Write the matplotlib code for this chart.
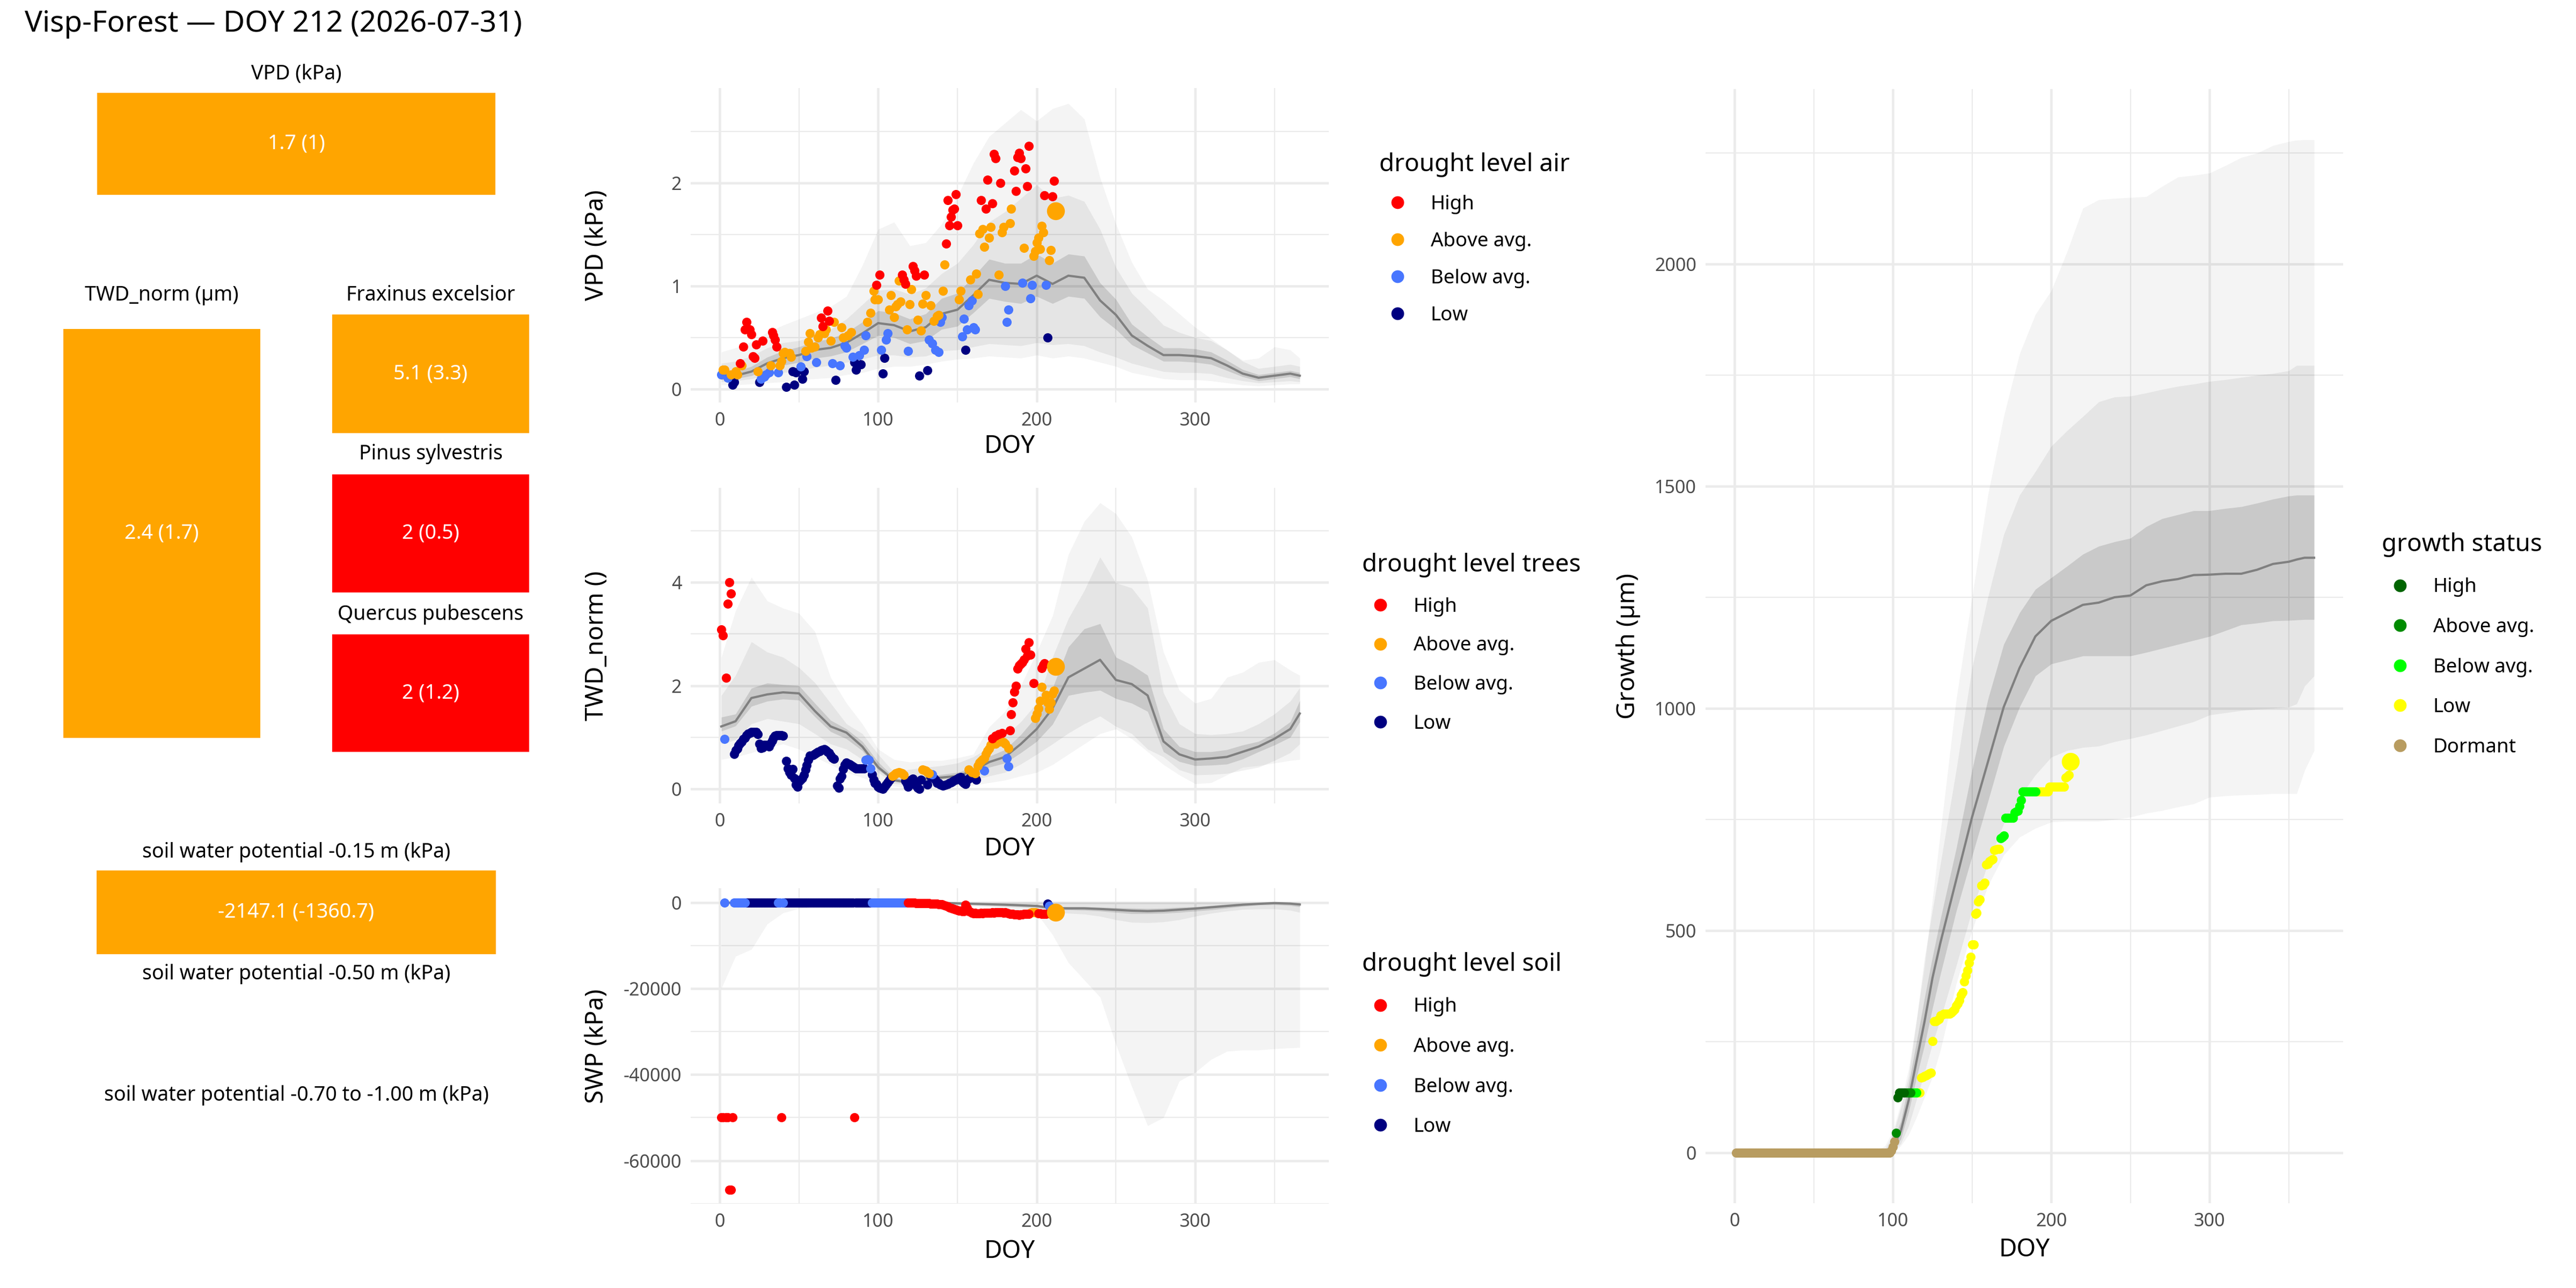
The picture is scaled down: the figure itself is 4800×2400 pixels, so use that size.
import numpy as np
import matplotlib
matplotlib.use("Agg")
import matplotlib.pyplot as plt
from matplotlib.lines import Line2D

plt.rcParams['font.family'] = ['Noto Sans', 'DejaVu Sans']
plt.rcParams['axes.unicode_minus'] = False

# ---------------- colours per class ----------------
drought_labels = ['High', 'Above avg.', 'Below avg.', 'Low']
drought_colors = ['#FF0000', '#FFA500', '#4876FF', '#000080']
growth_labels = ['High', 'Above avg.', 'Below avg.', 'Low', 'Dormant']
growth_colors = ['#006400', '#008B00', '#00FF00', '#FFFF00', '#B89C60']

# ---------------- summary tiles ----------------
tile_names = ['VPD (kPa)', 'TWD_norm (µm)', 'Fraxinus excelsior', 'Pinus sylvestris',
              'Quercus pubescens', 'soil water potential -0.15 m (kPa)']
tile_texts = ['1.7 (1)', '2.4 (1.7)', '5.1 (3.3)', '2 (0.5)', '2 (1.2)', '-2147.1 (-1360.7)']
tile_levels = ['Above avg.', 'Above avg.', 'Above avg.', 'High', 'High', 'Above avg.']
empty_tiles = ['soil water potential -0.50 m (kPa)', 'soil water potential -0.70 to -1.00 m (kPa)']

today_doy = 212

# ---------------- climatology ribbons (10-day grid) ----------------
rib_doy = [1, 10, 20, 30, 40, 50, 60, 70, 80, 90, 100, 110, 120, 130, 140, 150, 160, 170, 180,
           190, 200, 210, 220, 230, 240, 250, 260, 270, 280, 290, 300, 310, 320, 330, 340, 350, 360, 366]

vpd_mean = [0.125,0.13,0.17,0.25,0.30,0.33,0.38,0.40,0.45,0.54,0.64,0.62,0.56,0.60,0.73,0.77,0.91,1.06,1.03,
            1.02,1.10,1.02,1.10,1.08,0.86,0.72,0.52,0.42,0.33,0.33,0.32,0.30,0.23,0.15,0.11,0.13,0.15,0.13]
vpd_q25 = [0.09,0.10,0.13,0.19,0.23,0.26,0.30,0.32,0.36,0.44,0.52,0.50,0.44,0.47,0.58,0.61,0.74,0.88,0.85,
           0.83,0.90,0.83,0.90,0.88,0.70,0.58,0.43,0.35,0.27,0.27,0.26,0.24,0.18,0.12,0.08,0.10,0.12,0.10]
vpd_q75 = [0.16,0.17,0.22,0.31,0.37,0.41,0.46,0.49,0.55,0.65,0.76,0.74,0.68,0.73,0.88,0.93,1.09,1.26,1.22,
           1.22,1.31,1.22,1.31,1.29,1.03,0.87,0.63,0.51,0.40,0.40,0.39,0.36,0.28,0.19,0.14,0.16,0.18,0.16]
vpd_q10 = [0.07,0.08,0.10,0.13,0.16,0.18,0.21,0.23,0.26,0.29,0.33,0.33,0.31,0.32,0.37,0.38,0.41,0.44,0.43,
           0.42,0.45,0.43,0.44,0.42,0.36,0.31,0.25,0.21,0.17,0.16,0.16,0.15,0.11,0.08,0.06,0.07,0.08,0.07]
vpd_q90 = [0.25,0.27,0.32,0.40,0.45,0.47,0.52,0.58,0.68,0.82,0.96,0.97,0.92,0.98,1.12,1.22,1.40,1.62,1.72,
           1.85,1.98,1.85,1.88,1.82,1.55,1.18,0.93,0.78,0.62,0.55,0.50,0.47,0.38,0.27,0.20,0.22,0.24,0.22]
vpd_min = [0.04,0.04,0.05,0.06,0.07,0.09,0.10,0.11,0.14,0.16,0.20,0.22,0.22,0.24,0.27,0.29,0.30,0.32,0.31,
           0.30,0.33,0.30,0.32,0.30,0.26,0.22,0.16,0.13,0.10,0.09,0.09,0.08,0.06,0.04,0.03,0.04,0.05,0.05]
vpd_max = [0.36,0.40,0.46,0.55,0.62,0.68,0.74,0.80,0.90,1.20,1.55,1.62,1.39,1.42,1.60,1.87,2.19,2.45,2.58,
           2.71,2.60,2.72,2.77,2.62,2.05,1.60,1.23,0.97,0.86,0.73,0.60,0.49,0.38,0.28,0.30,0.41,0.38,0.30]

twd_mean = [1.21,1.31,1.76,1.83,1.87,1.85,1.51,1.21,1.09,0.82,0.42,0.17,0.12,0.20,0.22,0.25,0.35,0.52,0.62,
            0.87,1.16,1.56,2.16,2.33,2.50,2.11,2.03,1.81,0.92,0.67,0.57,0.59,0.62,0.72,0.82,0.97,1.16,1.46]
twd_q25 = [1.12,1.22,1.60,1.70,1.74,1.72,1.40,1.11,0.97,0.74,0.37,0.14,0.10,0.17,0.19,0.21,0.27,0.42,0.50,
           0.70,0.92,1.25,1.81,1.87,1.91,1.75,1.66,1.50,0.72,0.53,0.45,0.46,0.48,0.58,0.72,0.85,1.00,1.30]
twd_q75 = [1.39,1.45,1.95,2.05,2.02,2.00,1.66,1.33,1.16,0.92,0.52,0.22,0.17,0.25,0.28,0.32,0.42,0.63,0.76,
           1.05,1.41,1.95,2.75,3.10,3.20,2.55,2.40,2.20,1.16,0.82,0.72,0.72,0.76,0.85,0.92,1.08,1.30,1.71]
twd_q10 = [0.87,0.95,1.26,1.36,1.31,1.26,1.07,0.87,0.77,0.57,0.32,0.10,0.08,0.10,0.12,0.14,0.17,0.25,0.32,
           0.48,0.67,0.87,1.08,1.26,1.41,1.21,1.07,0.77,0.62,0.37,0.27,0.28,0.30,0.36,0.42,0.55,0.70,0.87]
twd_q90 = [1.81,2.20,2.85,2.65,2.55,2.35,2.06,1.66,1.26,1.07,0.67,0.32,0.38,0.42,0.45,0.50,0.62,0.80,1.02,
           1.30,1.66,2.55,3.30,3.84,4.49,3.99,3.89,3.50,1.86,1.26,1.07,1.05,1.07,1.12,1.26,1.45,1.70,1.96]
twd_min = [0.57,0.62,0.70,0.80,0.87,0.77,0.62,0.47,0.32,0.22,0.10,0.05,0.02,0.03,0.05,0.06,0.07,0.12,0.17,
           0.25,0.32,0.47,0.67,0.87,1.07,1.16,0.97,0.72,0.47,0.27,0.10,0.12,0.27,0.42,0.45,0.50,0.55,0.57]
twd_max = [2.55,3.45,4.10,3.64,3.50,3.40,3.05,2.16,1.66,1.26,0.77,0.57,0.52,0.55,0.55,0.60,0.67,1.20,1.50,
           2.00,2.65,3.35,4.54,5.18,5.54,5.33,4.88,4.04,2.65,1.91,1.66,1.75,2.16,2.26,2.45,2.50,2.30,2.20]

swp_mean = [-30,-30,-30,-30,-30,-30,-30,-30,-30,-30,-40,-50,-60,-80,-100,-200,-300,-400,-500,
            -650,-800,-1300,-1350,-1350,-1500,-1700,-1900,-2000,-1900,-1650,-1400,-1100,-800,-500,-300,-130,-250,-450]
swp_q25 = [-80,-80,-80,-80,-80,-80,-80,-80,-80,-80,-100,-120,-150,-180,-220,-350,-500,-650,-800,
           -950,-1100,-1700,-1700,-1800,-2000,-2300,-2600,-2600,-2500,-2300,-2000,-1700,-1300,-900,-600,-500,-700,-1000]
swp_q75 = [0,0,0,0,0,0,0,0,0,0,-10,-20,-20,-30,-40,-80,-120,-180,-250,
           -350,-500,-1000,-1000,-1000,-1100,-1200,-1300,-1400,-1300,-1100,-1000,-700,-400,-200,-80,-30,-80,-200]
swp_q10 = [-300,-300,-300,-300,-300,-300,-300,-300,-300,-300,-300,-350,-400,-450,-500,-600,-700,-800,-1000,
           -1200,-1500,-2200,-2500,-2700,-3200,-4000,-4600,-4700,-4500,-4000,-3200,-2500,-2000,-1600,-1500,-1500,-1800,-2300]
swp_q90 = [0,0,0,0,0,0,0,0,0,0,0,0,0,0,0,0,0,0,0,
           0,0,0,0,0,0,0,0,0,0,0,0,0,0,0,0,0,0,0]
swp_min = [-20000,-12500,-10900,-5000,-2400,-1400,-1000,-800,-700,-600,-500,-500,-500,-500,-500,-600,-800,-1000,-1500,
           -2000,-2500,-7500,-14000,-18000,-22000,-33000,-42800,-51900,-50000,-41500,-39500,-36500,-34600,-34300,-34300,-34000,-33800,-33700]
swp_max = [200,200,200,200,200,200,200,200,200,200,200,200,200,200,200,200,200,200,200,
           200,200,200,200,200,200,200,200,200,200,200,200,200,200,200,200,200,200,200]

gr_rib_doy = [1, 50, 90, 95, 100, 105, 110, 115, 120, 125, 130, 140, 150, 160, 170, 180, 190, 200, 210,
              220, 230, 240, 250, 260, 270, 280, 290, 300, 310, 320, 330, 340, 350, 355, 360, 366]
gr_mean = [0,0,0,2,12,48,118,207,295,393,472,614,755,879,1003,1091,1162,1197,1215,
           1233,1238,1250,1254,1277,1286,1291,1300,1301,1303,1303,1312,1325,1330,1335,1339,1339]
gr_q25 = [0,0,0,0,5,30,92,170,242,325,401,543,667,790,914,1003,1073,1100,1109,
          1118,1118,1118,1118,1126,1135,1144,1153,1162,1175,1188,1192,1197,1198,1199,1200,1200]
gr_q75 = [0,0,0,5,25,70,154,250,348,440,525,684,861,1020,1144,1215,1268,1294,1320,
          1347,1365,1375,1383,1409,1427,1436,1445,1445,1450,1454,1462,1471,1478,1480,1480,1480]
gr_q10 = [0,0,0,0,3,20,60,120,180,245,300,420,545,650,740,800,850,890,905,
          912,915,925,932,940,950,960,970,985,990,995,998,1000,1003,1010,1050,1073]
gr_q90 = [0,0,0,8,40,100,172,300,437,545,649,861,1091,1250,1391,1480,1533,1590,1625,
          1657,1690,1701,1703,1710,1718,1725,1730,1736,1740,1745,1750,1754,1760,1772,1772,1772]
gr_min = [0,0,0,0,0,15,40,80,125,170,230,380,500,600,670,710,730,744,746,
          746,746,750,755,764,770,778,785,800,803,805,806,808,808,808,860,905]
gr_max = [0,0,5,15,48,110,189,300,419,570,720,1020,1250,1480,1657,1798,1887,1940,2028,
          2126,2145,2148,2150,2152,2175,2196,2200,2205,2222,2240,2250,2267,2276,2279,2280,2280]

# ---------------- this year's daily values, per class ----------------
vpd_high_doy = [13,15,16,17,19,20,21,22,23,27,33,34,35,36,64,65,68,69,99,101,115,116,117,122,123,124,129,
                143,144,145,146,147,148,149,150,165,168,169,172,173,174,177,186,187,188,189,190,193,194,195,205,210,211]
vpd_high_val = [.25,.41,.58,.65,.58,.53,.32,.30,.43,.47,.55,.52,.48,.41,.69,.61,.76,.66,1.01,1.11,1.11,1.06,1.02,
                1.19,1.15,1.10,1.11,1.41,1.83,1.59,1.67,1.74,1.75,1.89,1.59,1.83,1.75,2.03,1.80,2.28,2.24,2.00,
                2.12,1.92,2.25,2.29,2.24,2.14,1.97,2.36,1.88,1.87,2.02]
vpd_above_doy = [2,3,7,10,11,14,24,32,38,39,40,41,44,45,54,56,57,58,60,62,63,66,67,70,72,77,78,81,83,93,
                 95,97,98,100,107,108,110,111,112,113,114,118,120,121,125,127,128,130,133,135,137,138,141,142,
                 151,152,158,162,163,164,166,167,170,171,176,178,179,183,184,192,198,199,200,201,202,203,204,208,209]
vpd_above_val = [.19,.19,.14,.17,.14,.23,.17,.23,.23,.27,.35,.36,.35,.31,.37,.46,.54,.40,.41,.50,
                 .53,.54,.58,.47,.65,.60,.50,.52,.55,.65,.74,.95,.87,.87,.77,.91,.70,.80,.82,1.05,
                 .85,.58,.82,.97,.67,.57,.83,.91,.81,.66,.71,.72,.95,1.21,.87,.95,1.06,1.12,.92,1.51,
                 1.55,1.38,1.47,1.57,1.11,1.52,1.57,1.61,1.75,1.37,1.29,1.34,1.42,1.47,1.36,1.58,1.52,1.25,1.35]
vpd_below_doy = [1,5,26,28,29,31,37,51,55,61,71,76,79,80,84,88,91,92,102,105,106,119,132,134,136,138,139,140,
                 153,154,156,157,159,160,161,180,181,182,191,196,197,206]
vpd_below_val = [.14,.11,.10,.12,.14,.16,.16,.22,.32,.26,.25,.23,.42,.40,.31,.33,.38,.52,.38,.48,
                 .54,.37,.48,.44,.38,.36,.65,.70,.51,.68,.58,.81,.86,.60,.58,1.00,.65,.77,1.03,.88,1.01,1.01]
vpd_low_doy = [8,9,25,42,46,47,48,52,53,73,85,86,87,89,103,104,126,131,155,207]
vpd_low_val = [.04,.07,.07,.02,.17,.04,.16,.10,.17,.09,.26,.19,.23,.24,.15,.30,.13,.18,.38,.50]
vpd_today = 1.73

twd_high_doy = [1,2,4,5,6,7,172,174,176,178,183,184,185,186,187,188,189,190,191,192,193,194,195,196,198,203,204,205]
twd_high_val = [3.09,2.97,2.15,3.59,4.00,3.78,0.98,1.03,1.06,1.08,1.13,1.44,1.67,1.88,2.00,2.33,2.39,2.42,2.45,
                2.50,2.71,2.58,2.84,2.60,2.05,2.34,2.40,2.43]
twd_above_doy = [109,110,111,112,113,114,115,116,128,129,130,131,132,157,159,161,163,164,165,166,167,168,169,170,
                 171,172,173,174,175,176,177,178,179,180,182,199,200,201,202,203,206,207,208,209,210,211]
twd_above_val = [.25,.27,.30,.31,.32,.31,.30,.27,.37,.36,.35,.32,.30,.37,.32,.30,.45,.51,.54,.57,.59,.68,.74,.78,
                 .85,.86,.87,.87,.90,.91,.91,.91,.90,.87,.79,1.37,1.46,1.56,1.70,1.98,1.82,1.67,1.55,1.67,1.84,1.90]
twd_below_doy = [3,92,93,94,95,134,167,181,182]
twd_below_val = [.97,.56,.57,.56,.40,.28,.35,.59,.44]
twd_low_doy = [9,10,11,12,13,14,15,16,17,18,19,20,21,22,23,24,25,26,27,28,29,30,31,32,33,34,35,36,37,38,39,40,
               42,43,44,45,46,47,48,49,50,51,52,53,54,55,56,57,58,59,60,61,62,63,64,65,66,67,68,69,70,71,72,
               74,75,76,77,78,79,80,81,82,83,84,85,86,87,88,89,90,91,
               96,97,98,99,100,101,102,103,104,105,106,107,108,
               117,118,119,120,121,122,123,124,125,126,127,131,133,
               135,136,137,138,139,140,141,142,143,144,145,146,147,148,149,150,151,152,153,154,155,156,157,158,
               159,160,161,162]
twd_low_val = [.68,.75,.78,.84,.88,.91,.97,.99,1.04,1.07,1.08,1.10,1.10,1.10,1.10,1.06,.87,.79,.80,.85,
               .85,.84,.82,.88,.94,.99,1.03,1.04,1.04,1.04,1.04,1.03,
               .54,.40,.32,.27,.39,.21,.08,.04,.15,.18,.21,.27,.37,.46,.56,.65,.65,.66,.68,.70,
               .72,.73,.75,.76,.77,.75,.72,.70,.65,.60,.58,
               .06,.02,.20,.25,.39,.47,.51,.49,.48,.46,.44,.42,.40,.40,.40,.40,.40,.40,
               .28,.18,.12,.09,.04,.02,.01,.00,.04,.08,.13,.17,.21,
               .16,.10,.04,.15,.18,.20,.11,.06,.02,.00,.18,.08,.24,
               .21,.18,.11,.11,.08,.07,.06,.07,.08,.09,.11,.13,.15,.17,.18,.20,.22,.23,.15,.11,
               .09,.18,.20,.23,.24,.25,.22,.18]
twd_today = 2.37

swp_high_doy = [1,2,4,5,6,7,8,39,85,
                119,120,121,122,123,124,125,126,127,128,129,130,131,132,133,134,135,136,137,138,
                139,140,141,142,143,144,145,146,147,148,149,150,151,152,153,154,155,156,157,158,
                159,160,161,162,163,164,165,166,167,168,169,170,171,172,173,174,175,176,177,178,
                179,180,181,182,183,184,185,186,187,188,189,190,191,192,193,194,195,
                201,202,203,204,205,206,209,210,211]
swp_high_val = [-50000,-50000,-50000,-50000,-66800,-66800,-50000,-50000,-50000,
                -20,-40,-60,-80,-90,-100,-110,-120,-130,-140,-160,-180,-200,-220,-240,-260,-280,-300,-330,-360,
                -400,-450,-550,-650,-750,-900,-1100,-1250,-1400,-1550,-1700,-1800,-1850,-1900,-2000,-2000,-500,-1300,-2000,-2200,
                -2400,-2500,-2450,-2500,-2550,-2500,-2450,-2500,-2450,-2400,-2400,-2350,-2400,-2300,-2350,-2300,-2250,-2300,-2250,-2300,
                -2350,-2300,-2400,-2500,-2600,-2650,-2700,-2750,-2800,-2800,-2850,-2800,-2750,-2700,-2700,-2650,-2600,
                -2500,-2550,-2600,-2600,-2650,-2650,-2700,-2700,-2750]
swp_above_doy = [196,197,198,199,200]
swp_above_val = [-2400,-2300,-2250,-2300,-2400]
swp_below_doy = [3,9,10,11,12,13,14,15,16,37,38,40,
                 96,97,98,99,100,101,102,103,104,105,106,107,108,109,110,111,112,113,114,115,116,117,118,208]
swp_below_val = [0,0,0,0,0,0,0,0,0,0,0,0,
                 0,0,0,0,0,0,0,0,0,0,0,0,0,0,0,0,0,0,0,0,0,0,0,-800]
swp_low_doy = [17,18,19,20,21,22,23,24,25,26,27,28,29,30,31,32,33,34,35,36,
               41,42,43,44,45,46,47,48,49,50,51,52,53,54,55,56,57,58,59,60,61,62,
               63,64,65,66,67,68,69,70,71,72,73,74,75,76,77,78,79,80,81,82,83,84,
               86,87,88,89,90,91,92,93,94,95,207]
swp_low_val = [0,0,0,0,0,0,0,0,0,0,0,0,0,0,0,0,0,0,0,0,
               0,0,0,0,0,0,0,0,0,0,0,0,0,0,0,0,0,0,0,0,0,0,
               0,0,0,0,0,0,0,0,0,0,0,0,0,0,0,0,0,0,0,0,0,0,
               0,0,0,0,0,0,0,0,0,0,-250]
swp_today = -2300

gr_dormant_doy = list(range(1, 102))
gr_dormant_val = [0,0,0,0,0,0,0,0,0,0,0,0,0,0,0,0,0,0,0,0,
                  0,0,0,0,0,0,0,0,0,0,0,0,0,0,0,0,0,0,0,0,
                  0,0,0,0,0,0,0,0,0,0,0,0,0,0,0,0,0,0,0,0,
                  0,0,0,0,0,0,0,0,0,0,0,0,0,0,0,0,0,0,0,0,
                  0,0,0,0,0,0,0,0,0,0,0,0,0,0,0,0,0,0,4,13,25]
gr_high_doy = [103,104,105,106,107]
gr_high_val = [124,135,135,135,135]
gr_above_doy = [102,108,109,110,111]
gr_above_val = [44,135,135,135,135]
gr_below_doy = [112,113,114,115,168,169,170,171,172,173,174,175,176,177,178,179,180,181,
                182,183,184,185,186,187,188,189,190]
gr_below_val = [135,135,135,135,707,710,714,753,753,753,753,753,753,766,768,769,780,793,
                813,813,813,813,813,813,813,813,813]
gr_low_doy = [116,117,118,119,120,121,122,123,124,125,126,127,128,129,130,131,132,133,134,135,136,137,138,139,
              140,141,142,143,144,145,146,147,148,149,150,151,152,153,154,155,156,157,158,159,160,161,162,163,
              164,165,166,167,191,192,193,194,195,196,197,198,199,200,201,202,203,204,205,206,207,208,209,210,211]
gr_low_val = [135,135,169,170,172,173,176,178,179,251,296,296,298,300,309,310,313,313,313,313,313,315,318,322,
              330,336,343,355,361,385,398,410,427,440,468,468,537,540,565,570,601,603,607,648,650,656,658,660,
              681,682,683,683,813,813,813,813,813,813,813,813,823,823,823,823,823,823,823,823,823,823,844,846,850]
gr_today = 880


fig = plt.figure(figsize=(16, 8), dpi=300)


def fx(px):
    return px / 4800.0


def fy(py):
    return 1 - py / 2400.0


def add_ribbons(ax, doy, lo0, hi0, lo1, hi1, lo2, hi2, mean):
    ax.fill_between(doy, lo0, hi0, color='black', alpha=0.045, lw=0, zorder=1)
    ax.fill_between(doy, lo1, hi1, color='black', alpha=0.06, lw=0, zorder=1)
    ax.fill_between(doy, lo2, hi2, color='black', alpha=0.12, lw=0, zorder=1)
    ax.plot(doy, mean, color='#808080', lw=1.0, zorder=2)


def add_points(ax, series, colors, today_val, today_color):
    for (d, v), c in zip(series, colors):
        ax.scatter(d, v, s=17, color=c, lw=0, zorder=3)
    ax.scatter([today_doy], [today_val], s=64, color=today_color, lw=0, zorder=4)


def style_axis(ax, ylim, ymaj, ymin, ylabel, ylab_x, xlab_y):
    ax.set_xlim(-18.3, 384.3)
    ax.set_ylim(*ylim)
    ax.set_xticks([0, 100, 200, 300])
    ax.set_xticks([50, 150, 250, 350], minor=True)
    ax.set_yticks(ymaj)
    ax.set_yticks(ymin, minor=True)
    ax.grid(which='major', color='#EBEBEB', lw=1.1)
    ax.grid(which='minor', color='#EBEBEB', lw=0.55)
    ax.set_axisbelow(True)
    for s in ax.spines.values():
        s.set_visible(False)
    ax.tick_params(which='both', length=0, labelsize=8.2, labelcolor='#4D4D4D', pad=4)
    ax.set_xlabel('DOY', fontsize=11, va='center')
    ax.xaxis.set_label_coords(0.5, xlab_y)
    ax.set_ylabel(ylabel, fontsize=11, va='center')
    ax.yaxis.set_label_coords(ylab_x, 0.5)


def add_legend(ax, title, labels, colors, x_px, y_px, spacing):
    handles = [Line2D([], [], ls='', marker='o', markersize=5.7, color=c, mew=0) for c in colors]
    ax.legend(handles, labels, title=title, loc='upper left',
              bbox_to_anchor=(fx(x_px), fy(y_px)), bbox_transform=fig.transFigure,
              frameon=False, fontsize=8.8, title_fontsize=11, alignment='left',
              borderpad=0, borderaxespad=0, handlelength=1.86, handletextpad=0.75,
              labelspacing=spacing)


# ---------------- title ----------------
fig.text(fx(46), fy(45), 'Visp-Forest — DOY 212 (2026-07-31)', fontsize=13.2, ha='left', va='center')

# ---------------- tiles ----------------
tile_boxes = [(181, 173, 923, 363), (118, 613, 485, 1375), (619, 586, 986, 807),
              (619, 884, 986, 1104), (619, 1182, 986, 1401), (180, 1622, 924, 1778)]
tile_title_y = [137, 550, 550, 846, 1145, 1588]
for name, txt, lvl, box, ty in zip(tile_names, tile_texts, tile_levels, tile_boxes, tile_title_y):
    x0, y0, x1, y1 = box
    tax = fig.add_axes([fx(x0), fy(y1), fx(x1 - x0), (y1 - y0) / 2400.0])
    tax.bar([0], [1], width=1, align='edge', color=drought_colors[drought_labels.index(lvl)])
    tax.set_xlim(0, 1)
    tax.set_ylim(0, 1)
    tax.axis('off')
    tax.text(0.5, 0.5, txt, color='white', ha='center', va='center', fontsize=9)
    fig.text(fx((x0 + x1) / 2), fy(ty), name, ha='center', va='center', fontsize=9)
for name, ty in zip(empty_tiles, [1815, 2041]):
    fig.text(fx(552), fy(ty), name, ha='center', va='center', fontsize=9)

# ---------------- VPD ----------------
ax1 = fig.add_axes([fx(1287), fy(750), fx(1189), 586 / 2400.0])
add_ribbons(ax1, rib_doy, vpd_min, vpd_max, vpd_q10, vpd_q90, vpd_q25, vpd_q75, vpd_mean)
add_points(ax1, [(vpd_low_doy, vpd_low_val), (vpd_below_doy, vpd_below_val),
                 (vpd_above_doy, vpd_above_val), (vpd_high_doy, vpd_high_val)],
           drought_colors[::-1], vpd_today, drought_colors[1])
style_axis(ax1, (-0.13, 2.92), [0, 1, 2], [0.5, 1.5, 2.5], 'VPD (kPa)', -0.147, -0.14)
add_legend(ax1, 'drought level air', drought_labels, drought_colors, 2570, 284, 0.9)

# ---------------- TWD ----------------
ax2 = fig.add_axes([fx(1287), fy(1497), fx(1189), 588 / 2400.0])
add_ribbons(ax2, rib_doy, twd_min, twd_max, twd_q10, twd_q90, twd_q25, twd_q75, twd_mean)
add_points(ax2, [(twd_low_doy, twd_low_val), (twd_below_doy, twd_below_val),
                 (twd_above_doy, twd_above_val), (twd_high_doy, twd_high_val)],
           drought_colors[::-1], twd_today, drought_colors[1])
style_axis(ax2, (-0.28, 5.83), [0, 2, 4], [1, 3, 5], 'TWD_norm ()', -0.147, -0.145)
add_legend(ax2, 'drought level trees', drought_labels, drought_colors, 2538, 1030, 1.0)

# ---------------- SWP ----------------
ax3 = fig.add_axes([fx(1287), fy(2243), fx(1189), 588 / 2400.0])
add_ribbons(ax3, rib_doy, swp_min, swp_max, swp_q10, swp_q90, swp_q25, swp_q75, swp_mean)
add_points(ax3, [(swp_low_doy, swp_low_val), (swp_below_doy, swp_below_val),
                 (swp_above_doy, swp_above_val), (swp_high_doy, swp_high_val)],
           drought_colors[::-1], swp_today, drought_colors[1])
style_axis(ax3, (-70035, 3335), [0, -20000, -40000, -60000], [-10000, -30000, -50000, -70000],
           'SWP (kPa)', -0.147, -0.152)
add_legend(ax3, 'drought level soil', drought_labels, drought_colors, 2538, 1774, 1.05)

# ---------------- Growth ----------------
ax4 = fig.add_axes([fx(3178), fy(2242), fx(1188), 2076 / 2400.0])
add_ribbons(ax4, gr_rib_doy, gr_min, gr_max, gr_q10, gr_q90, gr_q25, gr_q75, gr_mean)
add_points(ax4, [(gr_dormant_doy, gr_dormant_val), (gr_low_doy, gr_low_val), (gr_below_doy, gr_below_val),
                 (gr_above_doy, gr_above_val), (gr_high_doy, gr_high_val)],
           growth_colors[::-1], gr_today, growth_colors[3])
style_axis(ax4, (-114, 2394), [0, 500, 1000, 1500, 2000], [250, 750, 1250, 1750, 2250],
           'Growth (µm)', -0.121, -0.042)
add_legend(ax4, 'growth status', growth_labels, growth_colors, 4438, 992, 1.05)

fig.savefig('out.png', dpi=300)
